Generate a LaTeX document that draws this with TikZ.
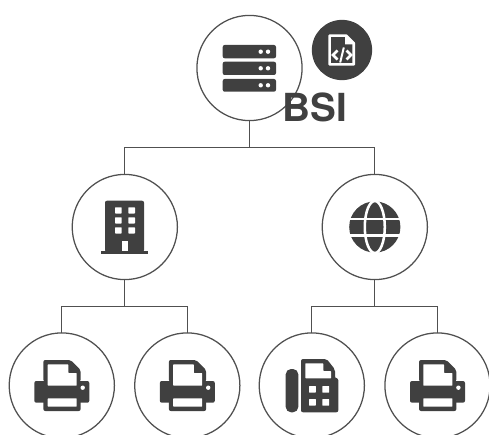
\documentclass[tikz,border=0pt]{standalone}
\usepackage{fontspec}
\setmainfont{TeX Gyre Heros}
\usetikzlibrary{calc}

\definecolor{icondark}{HTML}{404040}
\definecolor{linegray}{HTML}{505050}

\tikzset{
    devnode/.style={draw=linegray, circle, line width=0.95pt, minimum size=78.9pt, inner sep=0pt, outer sep=0pt},
    wire/.style={draw=linegray, line width=0.95pt},
    dark/.style={fill=icondark, rounded corners=1.5pt},
    gap/.style={fill=white, rounded corners=0.4pt},
    printericon/.pic={
        \fill[dark] (-18.5,-4) -- (-18.5,-25.5) -- (8.9,-25.5) -- (18.9,-15.5) -- (18.9,-4) -- cycle;
        \fill[dark] (-27.5,-4.5) rectangle (27.5,17.2);
        \fill[dark] (-18.5,10) rectangle (18.9,25.5);
        \fill[gap] (-14.1,-21.2) -- (6.5,-21.2) -- (6.5,-12.5) -- (14.9,-12.5) -- (14.9,0.2) -- (-14.1,0.2) -- cycle;
        \fill[gap] (-14.1,12.8) rectangle (14.9,21.2);
        \fill[white] (20.9,2.2) circle (2.2);
    }
}

\begin{document}
\begin{tikzpicture}[x=0.75pt, y=-0.75pt]

            \useasboundingbox (0,0) rectangle (489,435);
            \clip (0,0) rectangle (489,434);

            % Top circle
            \node[devnode] (server) at (249.5,68) {};
            \fill[dark] (222.7,45) rectangle (276,58.3);
            \fill[dark] (222.7,61.7) rectangle (276,75);
            \fill[dark] (222.7,79) rectangle (276,91.7);
            \foreach \rowy in {51.7,68.3,85.3} {
                \fill[white] (260.7,\rowy) circle (2.2) (268,\rowy) circle (2.2);
            }

            % Badge
            \node[circle, fill=icondark, minimum size=45.2pt, inner sep=0pt] (badge) at (342,50) {};
            \draw[white, line width=2pt, line join=round] (329.6,35.6) -- (346,35.6) -- (353.8,43.4) -- (353.8,64.4) -- (329.6,64.4) -- cycle;
            \fill[white] (345,35) -- (345,44.5) -- (354.5,44.5) -- cycle;
            \draw[white, line width=1.9pt] (337.5,50.5) -- (333,55) -- (337.5,59.5);
            \draw[white, line width=1.9pt] (346.5,50.5) -- (351,55) -- (346.5,59.5);
            \draw[white, line width=1.5pt] (343.8,47.5) -- (340.2,62.5);

            % Name
            \node[text=icondark, inner sep=0pt, font=\fontsize{29}{29}\bfseries\selectfont] (name) at (315,107) {BSI};

            % Middle circles
            \node[devnode] (building) at (124.8,227) {};
            \node[devnode] (globe) at (374.8,227) {};

            % Bottom circles
            \node[devnode] (printerA) at (61.8,385.5) {};
            \node[devnode] (printerB) at (187.3,385.5) {};
            \node[devnode] (fax) at (311.8,385.5) {};
            \node[devnode] (printerC) at (437.5,385.5) {};

            % Connectors
            \coordinate (topbus) at ($(server.south)+(0,27)$);
            \coordinate (leftbus) at ($(building.south)+(0,26.9)$);
            \coordinate (rightbus) at ($(globe.south)+(0,26.9)$);
            \draw[wire] (server.south) -- (topbus);
            \draw[wire] (building.north) |- (topbus) -| (globe.north);
            \draw[wire] (building.south) -- (leftbus);
            \draw[wire] (printerA.north) |- (leftbus) -| (printerB.north);
            \draw[wire] (globe.south) -- (rightbus);
            \draw[wire] (fax.north) |- (rightbus) -| (printerC.north);

            % Building icon
            \begin{scope}[shift={(building.center)}]
                \fill[dark] (-19.8,-26.3) rectangle (19.2,25);
                \fill[icondark] (-23.5,23.7) rectangle (23.2,27);
                \foreach \winx in {-9.8,3.5} {
                    \foreach \winy in {-19.7,-9.7,0.3} {
                        \fill[gap] (\winx,\winy) rectangle ++(6.7,6.2);
                    }
                }
                \fill[white] (-3.1,13.7) rectangle (3.5,23.7);
            \end{scope}

            % Globe icon
            \begin{scope}[shift={(globe.center)}]
                \fill[icondark] (0,0) circle (25.6);
                \draw[white, line width=1.9pt] (0,0) ellipse (10 and 26);
                \fill[white] (-27,-9.5) rectangle (27,-7);
                \fill[white] (-27,7) rectangle (27,9.5);
            \end{scope}

            % Printers
            \pic at (printerA.center) {printericon};
            \pic at (printerB.center) {printericon};
            \pic at (printerC.center) {printericon};

            % Fax icon
            \begin{scope}[shift={(fax.center)}]
                \fill[icondark, rounded corners=4pt] (-26.1,-16.5) rectangle (-13.5,26.8);
                \fill[dark] (-10.8,-26.5) -- (14.9,-26.5) -- (23.2,-16) -- (23.2,-7.2) -- (26.5,-7.2) -- (26.5,26.8) -- (-10.8,26.8) -- cycle;
                \fill[gap] (-6.5,-22.2) -- (11.5,-22.2) -- (11.5,-14.5) -- (19.2,-14.5) -- (19.2,-7.2) -- (-6.5,-7.2) -- cycle;
                \foreach \keyx in {-2.8,10.5} {
                    \foreach \keyy in {0.5,13.5} {
                        \fill[gap] (\keyx,\keyy) rectangle ++(6.8,6.7);
                    }
                }
            \end{scope}

\end{tikzpicture}
\end{document}
